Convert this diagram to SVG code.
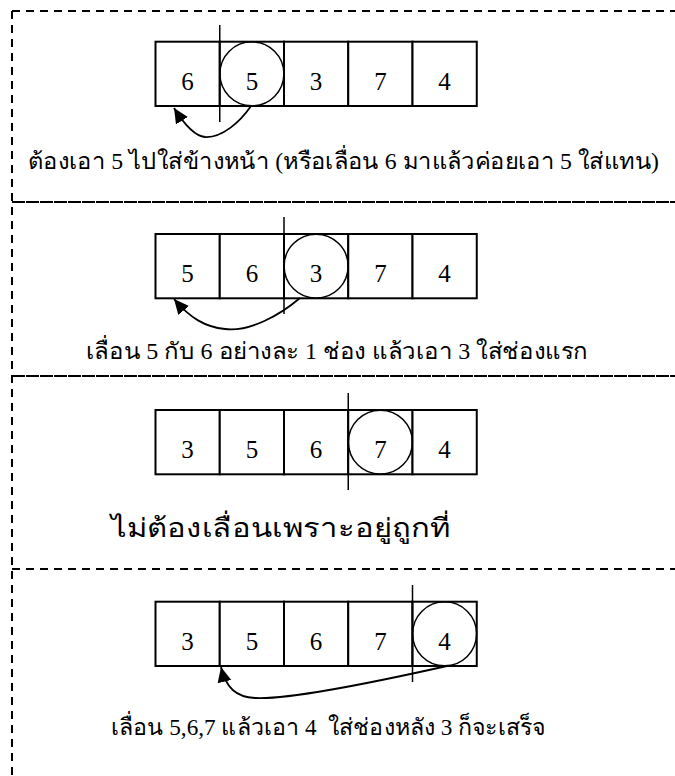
<svg xmlns="http://www.w3.org/2000/svg" width="675" height="776" viewBox="0 0 675 776">
<style>
.cell{fill:#fff;stroke:#000;stroke-width:2}
.num{font-family:"Liberation Serif","Times New Roman",serif;font-size:25px;text-anchor:middle;fill:#000}
.cap{font-family:"Liberation Serif","DejaVu Sans",serif;font-size:23px;fill:#000;white-space:pre}
.circ{fill:none;stroke:#000;stroke-width:1.5}
.div{stroke:#000;stroke-width:1.5}
.arrow{fill:none;stroke:#000;stroke-width:1.8;marker-end:url(#ah)}
.dash{stroke:#000;stroke-width:2;stroke-dasharray:8,6;fill:none}
.fine{stroke:#000;stroke-width:2;stroke-dasharray:13,1;fill:none}
</style>
<defs>
<marker id="ah" markerUnits="userSpaceOnUse" markerWidth="18" markerHeight="16" refX="15" refY="7" orient="auto">
<path d="M0,0 L15,7 L0,14 z" fill="#000"/>
</marker>
</defs>
<g id="frame">
<line class="dash" x1="12" y1="11" x2="675" y2="11"/>
<line class="dash" x1="12" y1="11" x2="12" y2="776"/>
<line class="fine" x1="12" y1="202" x2="675" y2="202"/>
<line class="fine" x1="12" y1="376" x2="675" y2="376"/>
<line class="dash" x1="12" y1="569" x2="675" y2="569"/>
</g>
<g id="row1">
<rect class="cell" x="155.5" y="41.7" width="64.25" height="64.3"/>
<rect class="cell" x="219.75" y="41.7" width="64.25" height="64.3"/>
<rect class="cell" x="284" y="41.7" width="64.25" height="64.3"/>
<rect class="cell" x="348.25" y="41.7" width="64.25" height="64.3"/>
<rect class="cell" x="412.5" y="41.7" width="64.25" height="64.3"/>
<ellipse class="circ" cx="251.9" cy="73.85" rx="32" ry="32"/>
<line class="div" x1="219.75" y1="25" x2="219.75" y2="122"/>
<text class="num" x="187.6" y="89.5">6</text>
<text class="num" x="251.9" y="89.5">5</text>
<text class="num" x="316.1" y="89.5">3</text>
<text class="num" x="380.4" y="89.5">7</text>
<text class="num" x="444.6" y="89.5">4</text>
<text class="cap" x="28" y="169" textLength="631" lengthAdjust="spacingAndGlyphs">ต้องเอา 5 ไปใส่ข้างหน้า (หรือเลื่อน 6 มาแล้วค่อยเอา 5 ใส่แทน)</text>
</g>
<g id="row2">
<rect class="cell" x="155.5" y="234" width="64.25" height="64.3"/>
<rect class="cell" x="219.75" y="234" width="64.25" height="64.3"/>
<rect class="cell" x="284" y="234" width="64.25" height="64.3"/>
<rect class="cell" x="348.25" y="234" width="64.25" height="64.3"/>
<rect class="cell" x="412.5" y="234" width="64.25" height="64.3"/>
<ellipse class="circ" cx="316.1" cy="266.15" rx="32" ry="32"/>
<line class="div" x1="284" y1="217" x2="284" y2="314"/>
<text class="num" x="187.6" y="281.5">5</text>
<text class="num" x="251.9" y="281.5">6</text>
<text class="num" x="316.1" y="281.5">3</text>
<text class="num" x="380.4" y="281.5">7</text>
<text class="num" x="444.6" y="281.5">4</text>
<text class="cap" x="86" y="359" textLength="502" lengthAdjust="spacingAndGlyphs">เลื่อน 5 กับ 6 อย่างละ 1 ช่อง แล้วเอา 3 ใส่ช่องแรก</text>
</g>
<g id="row3">
<rect class="cell" x="155.5" y="410" width="64.25" height="64.3"/>
<rect class="cell" x="219.75" y="410" width="64.25" height="64.3"/>
<rect class="cell" x="284" y="410" width="64.25" height="64.3"/>
<rect class="cell" x="348.25" y="410" width="64.25" height="64.3"/>
<rect class="cell" x="412.5" y="410" width="64.25" height="64.3"/>
<ellipse class="circ" cx="380.4" cy="442.15" rx="32" ry="32"/>
<line class="div" x1="348.25" y1="393" x2="348.25" y2="490"/>
<text class="num" x="187.6" y="457.5">3</text>
<text class="num" x="251.9" y="457.5">5</text>
<text class="num" x="316.1" y="457.5">6</text>
<text class="num" x="380.4" y="457.5">7</text>
<text class="num" x="444.6" y="457.5">4</text>
<text class="cap" x="111" y="537" style="font-size:26px" textLength="339" lengthAdjust="spacingAndGlyphs">ไม่ต้องเลื่อนเพราะอยู่ถูกที่</text>
</g>
<g id="row4">
<rect class="cell" x="155.5" y="601.7" width="64.25" height="64.3"/>
<rect class="cell" x="219.75" y="601.7" width="64.25" height="64.3"/>
<rect class="cell" x="284" y="601.7" width="64.25" height="64.3"/>
<rect class="cell" x="348.25" y="601.7" width="64.25" height="64.3"/>
<rect class="cell" x="412.5" y="601.7" width="64.25" height="64.3"/>
<ellipse class="circ" cx="444.6" cy="633.85" rx="32" ry="32"/>
<line class="div" x1="412.5" y1="585" x2="412.5" y2="682"/>
<text class="num" x="187.6" y="649.5">3</text>
<text class="num" x="251.9" y="649.5">5</text>
<text class="num" x="316.1" y="649.5">6</text>
<text class="num" x="380.4" y="649.5">7</text>
<text class="num" x="444.6" y="649.5">4</text>
<text class="cap" x="111" y="735" textLength="434" lengthAdjust="spacingAndGlyphs">เลื่อน 5,6,7 แล้วเอา 4  ใส่ช่องหลัง 3 ก็จะเสร็จ</text>
</g>
<g id="connectors">
<path class="arrow" d="M251,106 C240,122 222,138 205,137 C194,136 184,124 174,108"/>
<path class="arrow" d="M300,298 C280,315 250,332 225,329 C205,327 190,318 174,299"/>
<path class="arrow" d="M447,666 C380,681 290,700 255,698 C236,697 226,688 221,667"/>
</g>
</svg>
